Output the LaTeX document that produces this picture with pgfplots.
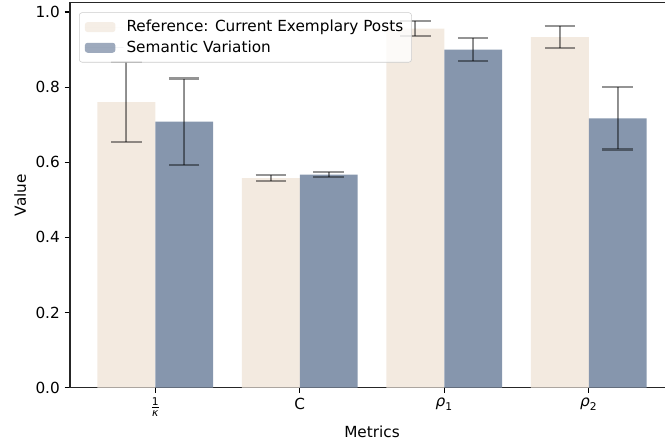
\documentclass[border=0pt]{standalone}
\usepackage{fontspec}
\setmainfont{DejaVu Sans}
\usepackage{amsmath}
\usepackage{pgfplots}
\pgfplotsset{compat=1.18}
\usepackage{pgfplotstable}
\definecolor{refc}{RGB}{243,234,224}
\definecolor{semc}{RGB}{134,150,173}
\pgfplotstableread{
x y e
0 0.760 0.106
1 0.558 0.007
2 0.956 0.020
3 0.933 0.030
}\refdata
\pgfplotstableread{
x y e
0 0.708 0.115
1 0.567 0.0065
2 0.900 0.031
3 0.717 0.083
}\semdata
\begin{document}
\begin{tikzpicture}
\begin{axis}[
  name=ax,
  scale only axis,
  width=434.9pt, height=277.2pt,
  xmin=-0.59, xmax=3.59,
  ymin=0, ymax=1.025,
  ybar, bar width=0.4,
  xtick={0,1,2,3},
  xticklabels={$\frac{\text{1}}{\text{\itshape κ}}$, C, $\text{\itshape ρ}_{\text{1}}$, $\text{\itshape ρ}_{\text{2}}$},
  ytick={0,0.2,0.4,0.6,0.8,1.0},
  yticklabel style={/pgf/number format/.cd, fixed, fixed zerofill, precision=1, assume math mode=true},
  tick align=outside,
  major tick length=3.8pt,
  tick style={black, line width=0.8pt},
  axis line style={line width=0.8pt, black!85},
  xtick pos=bottom, ytick pos=left,
  ticklabel style={font=\fontsize{11}{13}\selectfont},
  label style={font=\fontsize{11}{13}\selectfont},
  xlabel={Metrics}, ylabel={Value},
  legend style={at={(0,1)}, anchor=north west, xshift=6.5pt, yshift=-7pt,
    draw=black!20, rounded corners=2pt, fill=white, fill opacity=0.8, text opacity=1,
    font=\fontsize{11}{13}\selectfont, cells={anchor=west}, inner xsep=4pt, inner ysep=3.5pt, row sep=1pt},
  legend image code/.code={\path[#1] (0pt,-3.6pt) rectangle (22pt,3.6pt); \path (0pt,0pt) -- (28pt,0pt);},
  error bars/error bar style={line width=1.5pt, black, opacity=0.42},
  error bars/error mark options={rotate=90, mark size=11pt, line width=1.5pt, black, opacity=0.42},
]
\addplot[fill=refc, draw=none, bar shift=-0.2,
  error bars/.cd, y dir=both, y explicit]
  table[x=x, y=y, y error=e] {\refdata};
\addlegendentry{Reference: Current Exemplary Posts}
\addplot[fill=semc, draw=none, bar shift=0.2,
  error bars/.cd, y dir=both, y explicit]
  table[x=x, y=y, y error=e] {\semdata};
\addlegendentry{Semantic Variation}
\end{axis}
\pgfresetboundingbox
\path[use as bounding box] ([xshift=-50.4pt,yshift=-41.3pt]ax.south west) rectangle ([xshift=428.4pt,yshift=279.1pt]ax.south west);
\end{tikzpicture}
\end{document}
